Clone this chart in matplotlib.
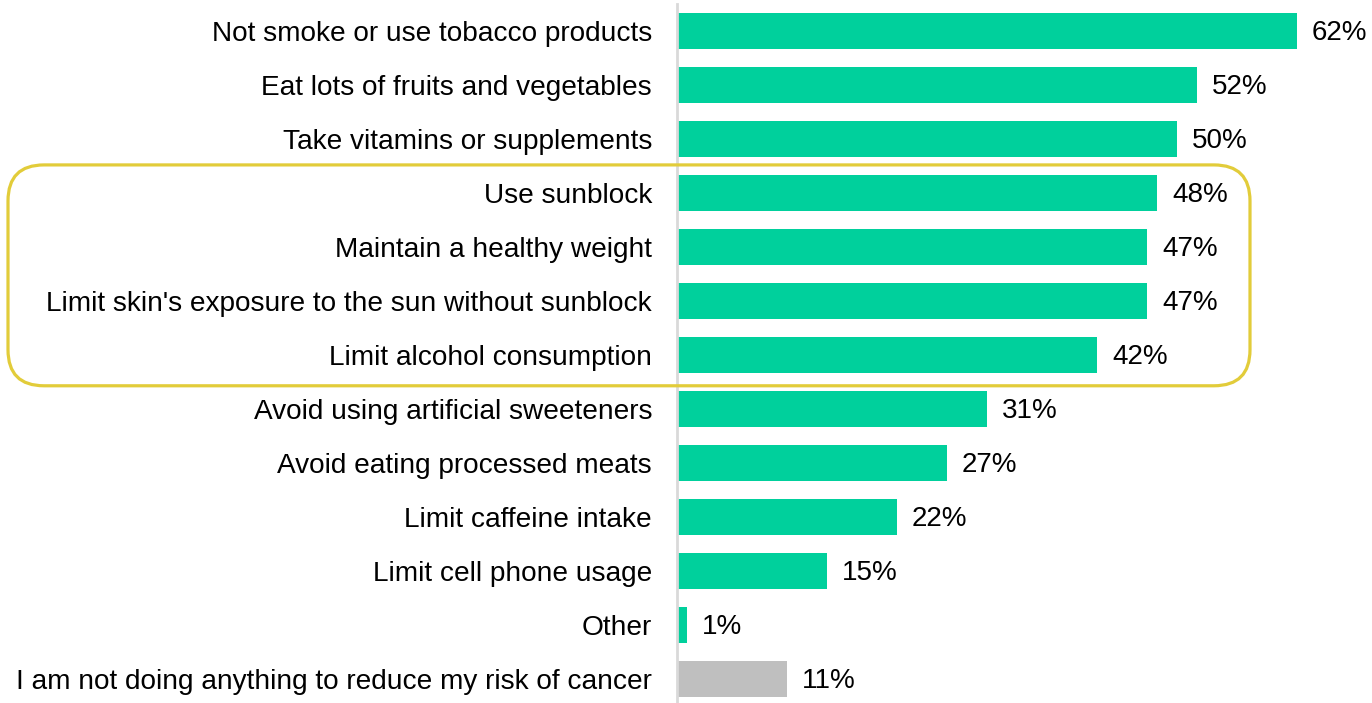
import matplotlib
matplotlib.use("Agg")
import matplotlib.pyplot as plt
from matplotlib.patches import FancyBboxPatch

plt.rcParams["font.family"] = ["Liberation Sans", "DejaVu Sans"]

actions = [
    "Not smoke or use tobacco products",
    "Eat lots of fruits and vegetables",
    "Take vitamins or supplements",
    "Use sunblock",
    "Maintain a healthy weight",
    "Limit skin's exposure to the sun without sunblock",
    "Limit alcohol consumption",
    "Avoid using artificial sweeteners",
    "Avoid eating processed meats",
    "Limit caffeine intake",
    "Limit cell phone usage",
    "Other",
    "I am not doing anything to reduce my risk of cancer",
]
percent = [62, 52, 50, 48, 47, 47, 42, 31, 27, 22, 15, 1, 11]
highlight_rows = [3, 6]  # first and last row inside the outlined group

green = "#00D09C"
grey = "#BFBFBF"
colors = [green] * (len(actions) - 1) + [grey]

W, H = 1372, 703
fig = plt.figure(figsize=(W / 100, H / 100), dpi=100)
ax = fig.add_axes([677 / W, 0, 695 / W, 1 - 4 / H])

ypos = list(range(len(actions)))
ax.barh(ypos, percent, height=0.67, color=colors, zorder=2)
ax.set_xlim(0, 69.5)
ax.set_ylim(12.5 - 3 / 54, -0.5)

for y, v in zip(ypos, percent):
    ax.text(v + 1.5, y + 0.03, f"{v}%", va="center", ha="left", fontsize=20, color="black")

ax.set_yticks(ypos)
ax.set_yticklabels(actions, fontsize=20.2)
ax.tick_params(axis="y", length=0, pad=18)
ax.set_xticks([])
for side in ["top", "right", "bottom"]:
    ax.spines[side].set_visible(False)
ax.spines["left"].set_color("#D9D9D9")
ax.spines["left"].set_linewidth(2)

# outline around the sun / weight / alcohol group, built in inches so corners stay round
fig.canvas.draw()
to_in = fig.dpi_scale_trans.inverted()
top = ax.transData.transform((0, highlight_rows[0] - 0.52))
bottom = ax.transData.transform((57.3, highlight_rows[1] + 0.57))
x0_in = 8 / 100
(_, y_top_in) = to_in.transform(top)
(x1_in, y_bot_in) = to_in.transform(bottom)
box = FancyBboxPatch(
    (x0_in, y_bot_in), x1_in - x0_in, y_top_in - y_bot_in,
    boxstyle="round,pad=0,rounding_size=0.36",
    transform=fig.dpi_scale_trans, fill=False,
    edgecolor="#E2CC3A", linewidth=2.3, zorder=5,
)
fig.patches.append(box)

fig.savefig("out.png", dpi=100)
